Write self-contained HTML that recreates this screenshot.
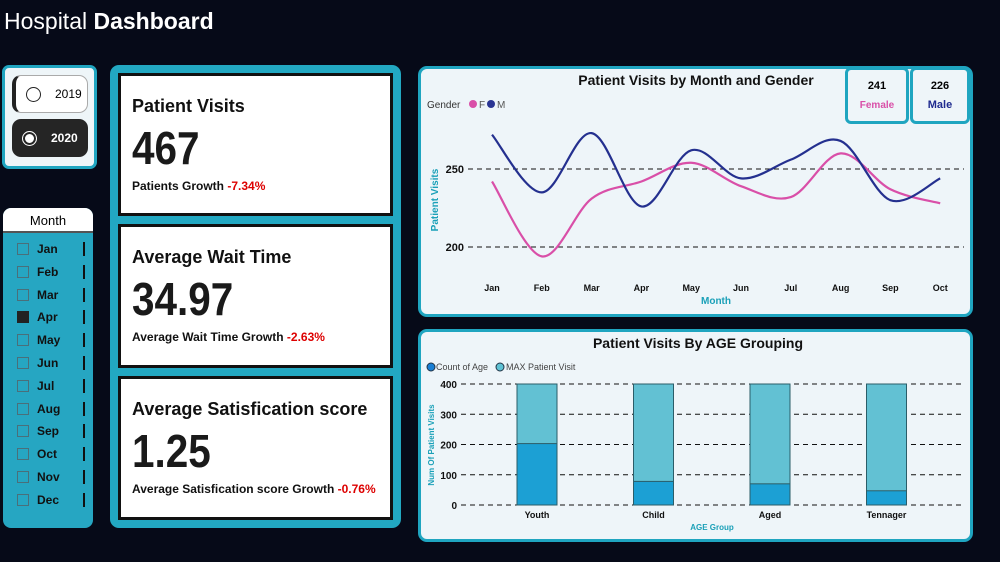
<!DOCTYPE html>
<html><head><meta charset="utf-8"><style>
*{box-sizing:border-box;margin:0;padding:0}
body{width:1000px;height:562px;overflow:hidden;background:#060a18;font-family:"Liberation Sans","DejaVu Sans",sans-serif;position:relative}
.abs{position:absolute}
.title{left:4px;top:8px;color:#fff;font-size:23px}
.yr{left:2px;top:65px;width:95px;height:104px;background:#eef5f8;border:3px solid #1fa5c0;border-radius:7px}
.btn{position:absolute;left:7px;width:76px;height:38px;border-radius:9px;font-size:12px;display:flex;align-items:center;padding-left:10px;gap:14px}
.radio{width:15px;height:15px;border-radius:50%;border:1.5px solid #222}
.mon{left:3px;top:208px;width:90px;height:320px;background:#26a6c2;border-radius:8px;overflow:hidden}
.mon .hd{height:25px;background:#fff;text-align:center;font-size:13px;line-height:25px;border-bottom:2px solid #555}
.mi{position:absolute;left:14px;font-size:12px;font-weight:bold;color:#111;display:flex;align-items:center;gap:8px}
.cb{width:12px;height:12px;border:1px solid #4a6f7a}
.bar{position:absolute;left:80px;width:2px;height:14px;background:#111}
.kpi{left:110px;top:65px;width:291px;height:463px;background:#22a8c2;border-radius:9px}
.card{position:absolute;left:8px;width:275px;background:#fff;border:3px solid #111;padding-left:11px}
.card h2{font-size:18px;margin-top:20px;color:#111}
.card .v{font-size:46px;font-weight:bold;color:#1a1a1a;margin-top:4px;line-height:54px;display:inline-block;transform:scaleX(0.88);transform-origin:left center}
.card .g{font-size:12px;font-weight:bold;color:#111;margin-top:4px}
.card .g span{color:#d00}
.panel{background:#eef5f9;border:3px solid #1fa5c0;border-radius:9px}
.sc{position:absolute;background:#eef5f9;border:3px solid #1fa5c0;border-radius:6px;text-align:center;font-size:11px;font-weight:bold;padding-top:10px}
</style></head><body>
<div class="abs title">Hospital <b>Dashboard</b></div>

<div class="abs yr">
 <div class="btn" style="top:7px;background:#fff;border:1px solid #aaa;border-left:4px solid #222"><div class="radio"></div>2019</div>
 <div class="btn" style="top:51px;background:#252525;color:#fff;font-weight:bold"><div class="radio" style="border-color:#fff;box-shadow:inset 0 0 0 2px #252525,inset 0 0 0 8px #fff"></div>2020</div>
</div>

<div class="abs mon">
 <div class="hd">Month</div>
 <div id="months"></div>
</div>

<div class="abs kpi">
 <div class="card" style="top:8px;height:143px"><h2>Patient Visits</h2><div class="v">467</div><div class="g">Patients Growth <span>-7.34%</span></div></div>
 <div class="card" style="top:159px;height:144px"><h2>Average Wait Time</h2><div class="v">34.97</div><div class="g">Average Wait Time Growth <span>-2.63%</span></div></div>
 <div class="card" style="top:311px;height:144px"><h2>Average Satisfication score</h2><div class="v">1.25</div><div class="g">Average Satisfication score Growth <span>-0.76%</span></div></div>
</div>

<div class="abs panel" style="left:418px;top:66px;width:555px;height:251px"></div>
<div class="sc" style="left:845px;top:67px;width:64px;height:57px">241<div style="color:#d94fa8;font-size:10px;margin-top:8px">Female</div></div>
<div class="sc" style="left:910px;top:67px;width:60px;height:57px">226<div style="color:#1e2a8f;font-size:11px;margin-top:7px">Male</div></div>
<div class="abs panel" style="left:418px;top:329px;width:555px;height:213px"></div>

<svg class="abs" style="left:0;top:0" width="1000" height="562" id="svg" font-family="Liberation Sans, sans-serif"></svg>

<script>
const months=["Jan","Feb","Mar","Apr","May","Jun","Jul","Aug","Sep","Oct","Nov","Dec"];
const lineMonths=["Jan","Feb","Mar","Apr","May","Jun","Jul","Aug","Sep","Oct"];
const femaleVals=[242,194,231,242,254,239,232,260,237,228];
const maleVals=[272,235,273,226,262,244,256,268,230,244];
const yTicksLine=[200,250];
const ageGroups=["Youth","Child","Aged","Tennager"];
const countOfAge=[203,78,70,47];
const maxVisit=[400,400,400,400];
const yTicksBar=[0,100,200,300,400];

const mc=document.getElementById('months');
months.forEach((m,i)=>{
 const d=document.createElement('div');d.className='mi';d.style.top=(34+i*22.8)+'px';
 
 
 d.innerHTML='<div class="cb" style="'+(m==='Apr'?'background:#222;border-color:#222':'')+'"></div>'+m;
 mc.appendChild(d);
 const b=document.createElement('div');b.className='bar';b.style.top=(34+i*22.8)+'px';mc.appendChild(b);
});

const NS='http://www.w3.org/2000/svg',svg=document.getElementById('svg');
function el(t,a,txt){const e=document.createElementNS(NS,t);for(const k in a)e.setAttribute(k,a[k]);if(txt!=null)e.textContent=txt;svg.appendChild(e);return e;}

// line chart
const lx=i=>492+i*49.8, ly=v=>169-(v-250)*1.56;
let t=el('text',{x:696,y:85,'text-anchor':'middle','font-size':14,'font-weight':'bold',fill:'#111'},'Patient Visits by Month and Gender');

el('text',{x:427,y:108,'font-size':10,fill:'#333'},'Gender');
el('circle',{cx:473,cy:104,r:4,fill:'#d94fa8'});el('text',{x:479,y:108,'font-size':10,fill:'#555'},'F');
el('circle',{cx:491,cy:104,r:4,fill:'#2a3593'});el('text',{x:497,y:108,'font-size':10,fill:'#555'},'M');
yTicksLine.forEach(v=>{
 let g=el('line',{x1:468,x2:964,y1:ly(v),y2:ly(v),stroke:'#111','stroke-dasharray':'5,4','stroke-width':1});
 
 el('text',{x:464,y:ly(v)+4,'text-anchor':'end','font-size':11,'font-weight':'bold',fill:'#111'},v);
});
lineMonths.forEach((m,i)=>el('text',{x:lx(i),y:291,'text-anchor':'middle','font-size':9,'font-weight':'bold',fill:'#111'},m));
el('text',{x:716,y:304,'text-anchor':'middle','font-size':10,'font-weight':'bold',fill:'#1aa0b8'},'Month');
el('text',{x:438,y:200,'text-anchor':'middle','font-size':10,'font-weight':'bold',fill:'#1aa0b8',transform:'rotate(-90 438 200)'},'Patient Visits');
function smooth(vals){const p=vals.map((v,i)=>[lx(i),ly(v)]);let d='M'+p[0][0]+','+p[0][1];
 for(let i=0;i<p.length-1;i++){const p0=p[i-1]||p[i],p1=p[i],p2=p[i+1],p3=p[i+2]||p2;
 d+=' C'+(p1[0]+(p2[0]-p0[0])/6)+','+(p1[1]+(p2[1]-p0[1])/6)+' '+(p2[0]-(p3[0]-p1[0])/6)+','+(p2[1]-(p3[1]-p1[1])/6)+' '+p2[0]+','+p2[1];}return d;}
let pf=el('path',{d:smooth(femaleVals),fill:'none',stroke:'#d94fa8','stroke-width':2.2});

let pm=el('path',{d:smooth(maleVals),fill:'none',stroke:'#24308f','stroke-width':2.2});


// bar chart
const by=v=>505-v*121/400, bx=i=>537+i*116.5;
t=el('text',{x:698,y:348,'text-anchor':'middle','font-size':14,'font-weight':'bold',fill:'#111'},'Patient Visits By AGE Grouping');

el('circle',{cx:431,cy:367,r:4,fill:'#1a7fd4',stroke:'#234'});el('text',{x:436,y:370,'font-size':9,fill:'#444'},'Count of Age');
el('circle',{cx:500,cy:367,r:4,fill:'#5fc2d4',stroke:'#234'});el('text',{x:506,y:370,'font-size':9,fill:'#444'},'MAX Patient Visit');
el('text',{x:434,y:445,'text-anchor':'middle','font-size':8,'font-weight':'bold',fill:'#1aa0b8',transform:'rotate(-90 434 445)'},'Num Of Patient Visits');
yTicksBar.forEach(v=>{
 el('line',{x1:461,x2:965,y1:by(v),y2:by(v),stroke:'#111','stroke-dasharray':'5,4','stroke-width':1});
 el('text',{x:457,y:by(v)+4,'text-anchor':'end','font-size':10,'font-weight':'bold',fill:'#111'},v);
});
ageGroups.forEach((g,i)=>{
 let r=el('rect',{x:bx(i)-20,y:by(maxVisit[i]),width:40,height:by(0)-by(maxVisit[i]),fill:'#62c1d3',stroke:'#2b5d68','stroke-width':1});
 
 let c=el('rect',{x:bx(i)-20,y:by(countOfAge[i]),width:40,height:by(0)-by(countOfAge[i]),fill:'#1ca0d4',stroke:'#2b5d68','stroke-width':1});
 
 el('text',{x:bx(i),y:518,'text-anchor':'middle','font-size':9,'font-weight':'bold',fill:'#111'},g);
});
el('text',{x:712,y:530,'text-anchor':'middle','font-size':8,'font-weight':'bold',fill:'#1aa0b8'},'AGE Group');
</script>
</body></html>
